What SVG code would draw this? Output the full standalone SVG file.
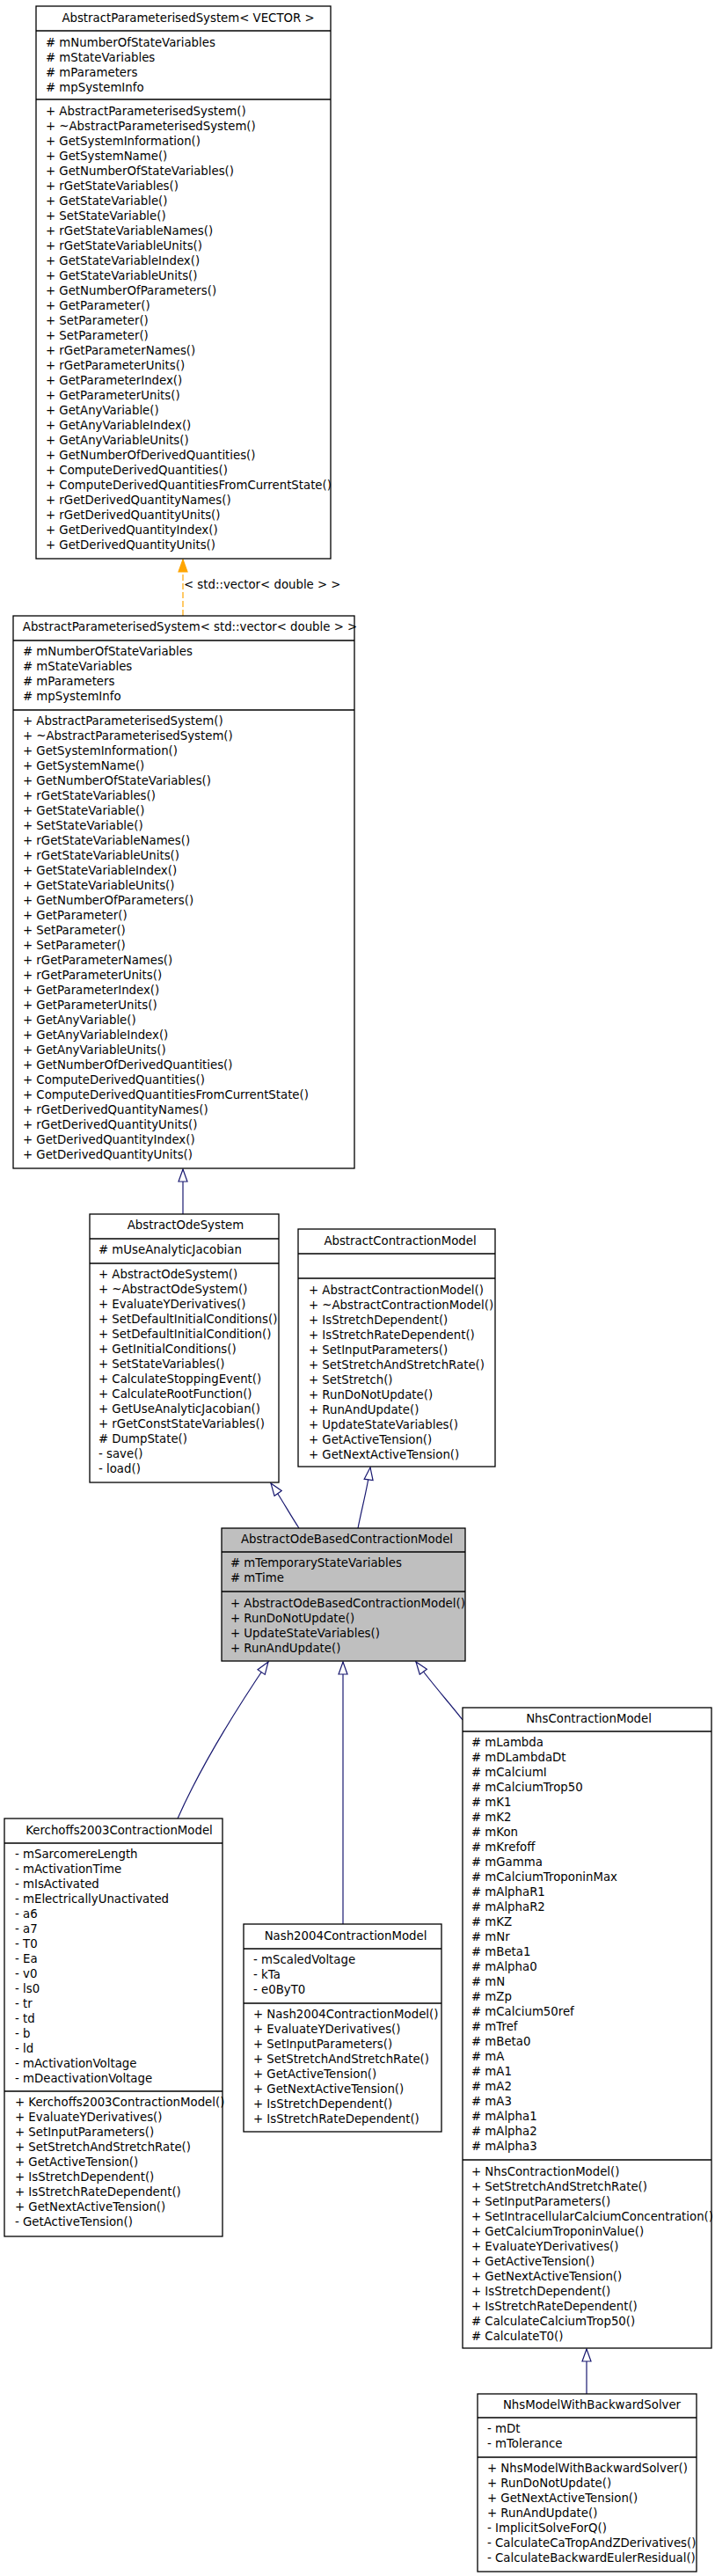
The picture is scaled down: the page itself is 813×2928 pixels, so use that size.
<svg xmlns="http://www.w3.org/2000/svg" width="813" height="2928" viewBox="0 0 813 2928">
<style>
text{font-family:"DejaVu Sans","Liberation Sans",sans-serif;font-size:13.3px;fill:#000}
.t{text-anchor:middle}
.box{fill:#fff;stroke:#000;stroke-width:1.3}
.cur{fill:#bfbfbf}
.sep{stroke:#000;stroke-width:1.3}
.inh{fill:none;stroke:#191970;stroke-width:1.2;marker-end:url(#hollow)}
.tpl{fill:none;stroke:#ffa500;stroke-width:1.2;stroke-dasharray:7,3;marker-end:url(#orange)}
</style>
<defs>
<marker id="hollow" markerUnits="userSpaceOnUse" viewBox="-1 -1 16 12" refX="14" refY="5" markerWidth="16" markerHeight="12" orient="auto">
<path d="M0,0 L14,5 L0,10 Z" fill="#fff" stroke="#191970" stroke-width="1.2"/>
</marker>
<marker id="orange" markerUnits="userSpaceOnUse" viewBox="-1 -1 16 12" refX="14" refY="5" markerWidth="16" markerHeight="12" orient="auto">
<path d="M0,0 L14,5 L0,10 Z" fill="#ffa500" stroke="#ffa500" stroke-width="1.2"/>
</marker>
</defs>

<g id="connectors">
<path class="tpl" d="M208,700 L208,636"/>
<text x="209" y="669">&lt; std::vector&lt; double &gt; &gt;</text>
<path class="inh" d="M208,1380 L208,1329"/>
<path class="inh" d="M340,1737 C330,1722 318,1700 308,1686"/>
<path class="inh" d="M407,1737 C412,1712 418,1690 421,1668"/>
<path class="inh" d="M202,2067 C225,2015 265,1948 305,1889"/>
<path class="inh" d="M390,2187 L390,1889"/>
<path class="inh" d="M526,1955 C512,1937 490,1912 473,1889"/>
<path class="inh" d="M667,2721 L667,2670"/>
</g>

<g id="AbstractParameterisedSystemVECTOR">
<rect class="box" x="41" y="7" width="335" height="628"/>
<line class="sep" x1="41" y1="35" x2="376" y2="35"/>
<line class="sep" x1="41" y1="113" x2="376" y2="113"/>
<text class="t" x="214" y="25">AbstractParameterisedSystem&lt; VECTOR &gt;</text>
<text y="52.5"><tspan x="52"># mNumberOfStateVariables</tspan><tspan x="52" dy="17"># mStateVariables</tspan><tspan x="52" dy="17"># mParameters</tspan><tspan x="52" dy="17"># mpSystemInfo</tspan></text>
<text y="130.5"><tspan x="52">+ AbstractParameterisedSystem()</tspan><tspan x="52" dy="17">+ ~AbstractParameterisedSystem()</tspan><tspan x="52" dy="17">+ GetSystemInformation()</tspan><tspan x="52" dy="17">+ GetSystemName()</tspan><tspan x="52" dy="17">+ GetNumberOfStateVariables()</tspan><tspan x="52" dy="17">+ rGetStateVariables()</tspan><tspan x="52" dy="17">+ GetStateVariable()</tspan><tspan x="52" dy="17">+ SetStateVariable()</tspan><tspan x="52" dy="17">+ rGetStateVariableNames()</tspan><tspan x="52" dy="17">+ rGetStateVariableUnits()</tspan><tspan x="52" dy="17">+ GetStateVariableIndex()</tspan><tspan x="52" dy="17">+ GetStateVariableUnits()</tspan><tspan x="52" dy="17">+ GetNumberOfParameters()</tspan><tspan x="52" dy="17">+ GetParameter()</tspan><tspan x="52" dy="17">+ SetParameter()</tspan><tspan x="52" dy="17">+ SetParameter()</tspan><tspan x="52" dy="17">+ rGetParameterNames()</tspan><tspan x="52" dy="17">+ rGetParameterUnits()</tspan><tspan x="52" dy="17">+ GetParameterIndex()</tspan><tspan x="52" dy="17">+ GetParameterUnits()</tspan><tspan x="52" dy="17">+ GetAnyVariable()</tspan><tspan x="52" dy="17">+ GetAnyVariableIndex()</tspan><tspan x="52" dy="17">+ GetAnyVariableUnits()</tspan><tspan x="52" dy="17">+ GetNumberOfDerivedQuantities()</tspan><tspan x="52" dy="17">+ ComputeDerivedQuantities()</tspan><tspan x="52" dy="17">+ ComputeDerivedQuantitiesFromCurrentState()</tspan><tspan x="52" dy="17">+ rGetDerivedQuantityNames()</tspan><tspan x="52" dy="17">+ rGetDerivedQuantityUnits()</tspan><tspan x="52" dy="17">+ GetDerivedQuantityIndex()</tspan><tspan x="52" dy="17">+ GetDerivedQuantityUnits()</tspan></text>
</g>

<g id="AbstractParameterisedSystemStdVector">
<rect class="box" x="15" y="700" width="388" height="628"/>
<line class="sep" x1="15" y1="728" x2="403" y2="728"/>
<line class="sep" x1="15" y1="807" x2="403" y2="807"/>
<text class="t" x="216" y="717">AbstractParameterisedSystem&lt; std::vector&lt; double &gt; &gt;</text>
<text y="745"><tspan x="26"># mNumberOfStateVariables</tspan><tspan x="26" dy="17"># mStateVariables</tspan><tspan x="26" dy="17"># mParameters</tspan><tspan x="26" dy="17"># mpSystemInfo</tspan></text>
<text y="824"><tspan x="26">+ AbstractParameterisedSystem()</tspan><tspan x="26" dy="17">+ ~AbstractParameterisedSystem()</tspan><tspan x="26" dy="17">+ GetSystemInformation()</tspan><tspan x="26" dy="17">+ GetSystemName()</tspan><tspan x="26" dy="17">+ GetNumberOfStateVariables()</tspan><tspan x="26" dy="17">+ rGetStateVariables()</tspan><tspan x="26" dy="17">+ GetStateVariable()</tspan><tspan x="26" dy="17">+ SetStateVariable()</tspan><tspan x="26" dy="17">+ rGetStateVariableNames()</tspan><tspan x="26" dy="17">+ rGetStateVariableUnits()</tspan><tspan x="26" dy="17">+ GetStateVariableIndex()</tspan><tspan x="26" dy="17">+ GetStateVariableUnits()</tspan><tspan x="26" dy="17">+ GetNumberOfParameters()</tspan><tspan x="26" dy="17">+ GetParameter()</tspan><tspan x="26" dy="17">+ SetParameter()</tspan><tspan x="26" dy="17">+ SetParameter()</tspan><tspan x="26" dy="17">+ rGetParameterNames()</tspan><tspan x="26" dy="17">+ rGetParameterUnits()</tspan><tspan x="26" dy="17">+ GetParameterIndex()</tspan><tspan x="26" dy="17">+ GetParameterUnits()</tspan><tspan x="26" dy="17">+ GetAnyVariable()</tspan><tspan x="26" dy="17">+ GetAnyVariableIndex()</tspan><tspan x="26" dy="17">+ GetAnyVariableUnits()</tspan><tspan x="26" dy="17">+ GetNumberOfDerivedQuantities()</tspan><tspan x="26" dy="17">+ ComputeDerivedQuantities()</tspan><tspan x="26" dy="17">+ ComputeDerivedQuantitiesFromCurrentState()</tspan><tspan x="26" dy="17">+ rGetDerivedQuantityNames()</tspan><tspan x="26" dy="17">+ rGetDerivedQuantityUnits()</tspan><tspan x="26" dy="17">+ GetDerivedQuantityIndex()</tspan><tspan x="26" dy="17">+ GetDerivedQuantityUnits()</tspan></text>
</g>

<g id="AbstractOdeSystem">
<rect class="box" x="102" y="1380" width="215" height="305"/>
<line class="sep" x1="102" y1="1408" x2="317" y2="1408"/>
<line class="sep" x1="102" y1="1436" x2="317" y2="1436"/>
<text class="t" x="211" y="1397">AbstractOdeSystem</text>
<text x="112" y="1425"># mUseAnalyticJacobian</text>
<text y="1453"><tspan x="112">+ AbstractOdeSystem()</tspan><tspan x="112" dy="17">+ ~AbstractOdeSystem()</tspan><tspan x="112" dy="17">+ EvaluateYDerivatives()</tspan><tspan x="112" dy="17">+ SetDefaultInitialConditions()</tspan><tspan x="112" dy="17">+ SetDefaultInitialCondition()</tspan><tspan x="112" dy="17">+ GetInitialConditions()</tspan><tspan x="112" dy="17">+ SetStateVariables()</tspan><tspan x="112" dy="17">+ CalculateStoppingEvent()</tspan><tspan x="112" dy="17">+ CalculateRootFunction()</tspan><tspan x="112" dy="17">+ GetUseAnalyticJacobian()</tspan><tspan x="112" dy="17">+ rGetConstStateVariables()</tspan><tspan x="112" dy="17"># DumpState()</tspan><tspan x="112" dy="17">- save()</tspan><tspan x="112" dy="17">- load()</tspan></text>
</g>

<g id="AbstractContractionModel">
<rect class="box" x="339" y="1397" width="224" height="270"/>
<line class="sep" x1="339" y1="1425" x2="563" y2="1425"/>
<line class="sep" x1="339" y1="1453" x2="563" y2="1453"/>
<text class="t" x="455" y="1415">AbstractContractionModel</text>
<text y="1470.5"><tspan x="351">+ AbstractContractionModel()</tspan><tspan x="351" dy="17">+ ~AbstractContractionModel()</tspan><tspan x="351" dy="17">+ IsStretchDependent()</tspan><tspan x="351" dy="17">+ IsStretchRateDependent()</tspan><tspan x="351" dy="17">+ SetInputParameters()</tspan><tspan x="351" dy="17">+ SetStretchAndStretchRate()</tspan><tspan x="351" dy="17">+ SetStretch()</tspan><tspan x="351" dy="17">+ RunDoNotUpdate()</tspan><tspan x="351" dy="17">+ RunAndUpdate()</tspan><tspan x="351" dy="17">+ UpdateStateVariables()</tspan><tspan x="351" dy="17">+ GetActiveTension()</tspan><tspan x="351" dy="17">+ GetNextActiveTension()</tspan></text>
</g>

<g id="AbstractOdeBasedContractionModel">
<rect class="box cur" x="252" y="1737" width="277" height="151"/>
<line class="sep" x1="252" y1="1764" x2="529" y2="1764"/>
<line class="sep" x1="252" y1="1809" x2="529" y2="1809"/>
<text class="t" x="394.5" y="1754">AbstractOdeBasedContractionModel</text>
<text y="1781"><tspan x="262"># mTemporaryStateVariables</tspan><tspan x="262" dy="17"># mTime</tspan></text>
<text y="1826.5"><tspan x="262">+ AbstractOdeBasedContractionModel()</tspan><tspan x="262" dy="17">+ RunDoNotUpdate()</tspan><tspan x="262" dy="17">+ UpdateStateVariables()</tspan><tspan x="262" dy="17">+ RunAndUpdate()</tspan></text>
</g>

<g id="Kerchoffs2003ContractionModel">
<rect class="box" x="5" y="2067" width="248" height="475"/>
<line class="sep" x1="5" y1="2095" x2="253" y2="2095"/>
<line class="sep" x1="5" y1="2377" x2="253" y2="2377"/>
<text class="t" x="135.5" y="2085">Kerchoffs2003ContractionModel</text>
<text y="2112"><tspan x="17">- mSarcomereLength</tspan><tspan x="17" dy="17">- mActivationTime</tspan><tspan x="17" dy="17">- mIsActivated</tspan><tspan x="17" dy="17">- mElectricallyUnactivated</tspan><tspan x="17" dy="17">- a6</tspan><tspan x="17" dy="17">- a7</tspan><tspan x="17" dy="17">- T0</tspan><tspan x="17" dy="17">- Ea</tspan><tspan x="17" dy="17">- v0</tspan><tspan x="17" dy="17">- ls0</tspan><tspan x="17" dy="17">- tr</tspan><tspan x="17" dy="17">- td</tspan><tspan x="17" dy="17">- b</tspan><tspan x="17" dy="17">- ld</tspan><tspan x="17" dy="17">- mActivationVoltage</tspan><tspan x="17" dy="17">- mDeactivationVoltage</tspan></text>
<text y="2394"><tspan x="17">+ Kerchoffs2003ContractionModel()</tspan><tspan x="17" dy="17">+ EvaluateYDerivatives()</tspan><tspan x="17" dy="17">+ SetInputParameters()</tspan><tspan x="17" dy="17">+ SetStretchAndStretchRate()</tspan><tspan x="17" dy="17">+ GetActiveTension()</tspan><tspan x="17" dy="17">+ IsStretchDependent()</tspan><tspan x="17" dy="17">+ IsStretchRateDependent()</tspan><tspan x="17" dy="17">+ GetNextActiveTension()</tspan><tspan x="17" dy="17">- GetActiveTension()</tspan></text>
</g>

<g id="Nash2004ContractionModel">
<rect class="box" x="277" y="2187" width="225" height="236"/>
<line class="sep" x1="277" y1="2215" x2="502" y2="2215"/>
<line class="sep" x1="277" y1="2277" x2="502" y2="2277"/>
<text class="t" x="393" y="2205">Nash2004ContractionModel</text>
<text y="2232"><tspan x="288">- mScaledVoltage</tspan><tspan x="288" dy="17">- kTa</tspan><tspan x="288" dy="17">- e0ByT0</tspan></text>
<text y="2294"><tspan x="288">+ Nash2004ContractionModel()</tspan><tspan x="288" dy="17">+ EvaluateYDerivatives()</tspan><tspan x="288" dy="17">+ SetInputParameters()</tspan><tspan x="288" dy="17">+ SetStretchAndStretchRate()</tspan><tspan x="288" dy="17">+ GetActiveTension()</tspan><tspan x="288" dy="17">+ GetNextActiveTension()</tspan><tspan x="288" dy="17">+ IsStretchDependent()</tspan><tspan x="288" dy="17">+ IsStretchRateDependent()</tspan></text>
</g>

<g id="NhsContractionModel">
<rect class="box" x="526" y="1941" width="283" height="728"/>
<line class="sep" x1="526" y1="1968" x2="809" y2="1968"/>
<line class="sep" x1="526" y1="2455" x2="809" y2="2455"/>
<text class="t" x="669.5" y="1958">NhsContractionModel</text>
<text y="1985"><tspan x="536"># mLambda</tspan><tspan x="536" dy="17"># mDLambdaDt</tspan><tspan x="536" dy="17"># mCalciumI</tspan><tspan x="536" dy="17"># mCalciumTrop50</tspan><tspan x="536" dy="17"># mK1</tspan><tspan x="536" dy="17"># mK2</tspan><tspan x="536" dy="17"># mKon</tspan><tspan x="536" dy="17"># mKrefoff</tspan><tspan x="536" dy="17"># mGamma</tspan><tspan x="536" dy="17"># mCalciumTroponinMax</tspan><tspan x="536" dy="17"># mAlphaR1</tspan><tspan x="536" dy="17"># mAlphaR2</tspan><tspan x="536" dy="17"># mKZ</tspan><tspan x="536" dy="17"># mNr</tspan><tspan x="536" dy="17"># mBeta1</tspan><tspan x="536" dy="17"># mAlpha0</tspan><tspan x="536" dy="17"># mN</tspan><tspan x="536" dy="17"># mZp</tspan><tspan x="536" dy="17"># mCalcium50ref</tspan><tspan x="536" dy="17"># mTref</tspan><tspan x="536" dy="17"># mBeta0</tspan><tspan x="536" dy="17"># mA</tspan><tspan x="536" dy="17"># mA1</tspan><tspan x="536" dy="17"># mA2</tspan><tspan x="536" dy="17"># mA3</tspan><tspan x="536" dy="17"># mAlpha1</tspan><tspan x="536" dy="17"># mAlpha2</tspan><tspan x="536" dy="17"># mAlpha3</tspan></text>
<text y="2472.5"><tspan x="536">+ NhsContractionModel()</tspan><tspan x="536" dy="17">+ SetStretchAndStretchRate()</tspan><tspan x="536" dy="17">+ SetInputParameters()</tspan><tspan x="536" dy="17">+ SetIntracellularCalciumConcentration()</tspan><tspan x="536" dy="17">+ GetCalciumTroponinValue()</tspan><tspan x="536" dy="17">+ EvaluateYDerivatives()</tspan><tspan x="536" dy="17">+ GetActiveTension()</tspan><tspan x="536" dy="17">+ GetNextActiveTension()</tspan><tspan x="536" dy="17">+ IsStretchDependent()</tspan><tspan x="536" dy="17">+ IsStretchRateDependent()</tspan><tspan x="536" dy="17"># CalculateCalciumTrop50()</tspan><tspan x="536" dy="17"># CalculateT0()</tspan></text>
</g>

<g id="NhsModelWithBackwardSolver">
<rect class="box" x="543" y="2721" width="249" height="202"/>
<line class="sep" x1="543" y1="2748" x2="792" y2="2748"/>
<line class="sep" x1="543" y1="2793" x2="792" y2="2793"/>
<text class="t" x="673" y="2738">NhsModelWithBackwardSolver</text>
<text y="2765"><tspan x="554">- mDt</tspan><tspan x="554" dy="17">- mTolerance</tspan></text>
<text y="2810"><tspan x="554">+ NhsModelWithBackwardSolver()</tspan><tspan x="554" dy="17">+ RunDoNotUpdate()</tspan><tspan x="554" dy="17">+ GetNextActiveTension()</tspan><tspan x="554" dy="17">+ RunAndUpdate()</tspan><tspan x="554" dy="17">- ImplicitSolveForQ()</tspan><tspan x="554" dy="17">- CalculateCaTropAndZDerivatives()</tspan><tspan x="554" dy="17">- CalculateBackwardEulerResidual()</tspan></text>
</g>
</svg>
